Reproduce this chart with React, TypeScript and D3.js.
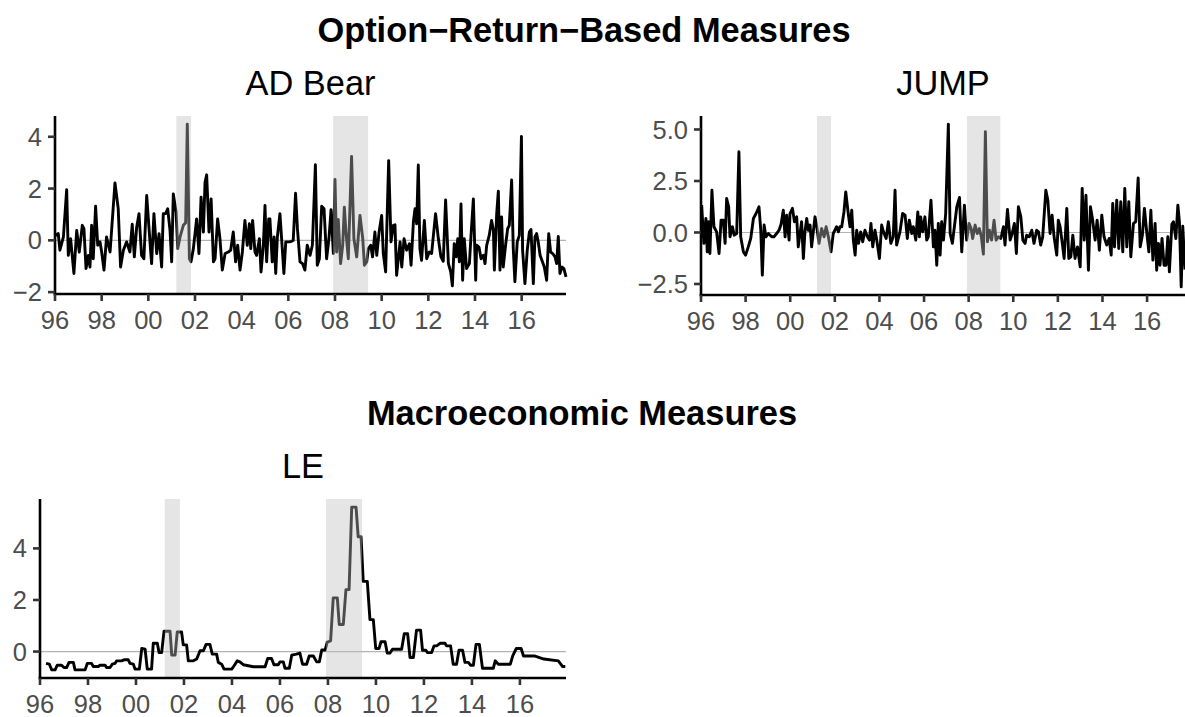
import React from "react";
import * as d3 from "d3";

// years since Jan 1996, value
const adBear: [number, number][] = [
  [0.00,0.19],[0.14,0.26],[0.21,-0.38],[0.36,0.13],[0.50,1.96],[0.57,-0.58],[0.67,0.06],[0.81,-1.28],[0.93,0.38],[1.04,-0.45],
  [1.17,0.58],[1.24,0.45],[1.33,-1.09],[1.43,-0.58],[1.50,-1.03],[1.57,0.58],[1.64,-0.71],[1.74,1.32],[1.83,-0.19],[1.93,-0.06],
  [2.00,-0.45],[2.10,-1.15],[2.21,0.13],[2.36,-0.45],[2.57,2.22],[2.71,1.22],[2.81,-1.03],[2.93,-0.38],[3.07,-0.06],[3.21,-0.45],
  [3.31,0.62],[3.40,-0.64],[3.50,0.51],[3.60,1.03],[3.71,-0.58],[3.81,-0.71],[3.93,1.73],[4.03,0.45],[4.14,-0.90],[4.24,1.03],
  [4.36,-0.51],[4.46,0.26],[4.57,-1.03],[4.64,1.03],[4.74,1.03],[4.83,1.22],[4.93,0.38],[5.00,-0.83],[5.07,1.79],[5.19,1.09],
  [5.26,-0.32],[5.36,0.13],[5.50,0.58],[5.60,0.68],[5.67,4.49],[5.76,-0.71],[5.83,-0.83],[5.93,-0.32],[6.07,0.83],[6.17,-0.51],
  [6.26,1.67],[6.36,0.32],[6.43,2.24],[6.50,2.53],[6.60,0.32],[6.69,1.60],[6.79,-0.83],[6.86,-0.71],[6.97,0.83],[7.07,0.06],
  [7.17,-1.15],[7.29,-0.51],[7.43,-0.45],[7.53,-0.38],[7.64,0.32],[7.74,-0.83],[7.83,-0.19],[7.93,-1.15],[8.03,-0.45],[8.14,0.77],
  [8.24,-0.19],[8.33,0.64],[8.39,-0.32],[8.47,0.77],[8.57,-0.45],[8.64,-0.58],[8.76,0.06],[8.83,-1.22],[8.93,-0.19],[9.00,1.35],
  [9.07,-0.83],[9.16,0.83],[9.21,0.83],[9.31,-0.83],[9.39,0.13],[9.46,-1.28],[9.53,0.13],[9.64,1.03],[9.74,-0.32],[9.81,-1.28],
  [9.89,-0.06],[10.03,-0.06],[10.14,-0.04],[10.21,0.00],[10.31,1.82],
  [10.39,0.45],[10.50,-0.83],[10.61,-0.90],[10.71,-1.15],[10.81,-0.19],[10.93,-0.58],[11.03,-0.19],[11.16,2.92],[11.24,-0.96],[11.33,-0.71],
  [11.43,1.32],[11.53,1.22],[11.64,-0.71],[11.74,0.06],[11.83,1.18],[11.93,-0.51],[12.00,2.35],[12.07,-0.45],[12.14,0.81],[12.24,-0.90],
  [12.33,-0.19],[12.40,1.28],[12.47,0.32],[12.57,-0.71],[12.71,3.24],[12.81,0.06],[12.93,-0.64],[13.07,0.96],[13.19,0.06],[13.26,-0.96],
  [13.36,-0.83],[13.43,-0.32],[13.53,-0.19],[13.61,-0.64],[13.71,0.32],[13.79,-0.58],[13.89,0.32],[14.00,0.96],[14.07,-0.51],[14.17,-1.22],
  [14.30,3.08],[14.40,-0.06],[14.50,0.58],[14.57,0.60],[14.64,-1.35],[14.79,-0.06],[14.86,-1.03],[14.96,0.06],[15.07,-0.38],[15.19,-0.13],
  [15.26,-0.96],[15.36,0.71],[15.43,1.22],[15.50,0.64],[15.57,2.91],[15.64,-0.32],[15.71,-0.77],[15.83,0.77],[15.93,-0.71],[16.04,-0.45],
  [16.14,-0.51],[16.31,1.03],[16.43,0.06],[16.54,-0.64],[16.64,-0.81],[16.74,1.56],[16.86,-0.90],[16.96,-1.22],[17.03,-1.76],[17.11,-0.13],
  [17.19,-0.64],[17.26,0.06],[17.33,-0.83],[17.40,1.41],[17.47,-1.54],[17.54,0.06],[17.64,-1.09],[17.76,-0.90],[17.83,0.19],[17.93,1.60],
  [18.03,-1.54],[18.07,-0.19],[18.17,-0.26],[18.26,-0.71],[18.36,-0.58],[18.43,-0.90],[18.50,-0.19],[18.61,0.19],[18.71,0.77],[18.79,0.38],
  [18.83,-1.15],[18.93,1.03],[19.00,1.90],[19.07,-1.15],[19.14,0.90],[19.21,-1.03],[19.31,-0.19],[19.40,0.45],[19.47,0.58],[19.57,2.33],
  [19.64,-0.32],[19.71,-1.60],[19.81,-0.06],[19.90,0.19],[19.99,4.01],[20.04,-0.38],[20.14,-1.67],[20.24,-0.38],[20.33,0.32],[20.40,0.42],
  [20.50,-1.67],[20.57,0.13],[20.64,0.26],[20.71,-0.06],[20.79,-0.58],[20.89,-0.83],[20.97,-1.03],[21.07,-1.54],[21.16,0.26],[21.24,-0.45],
  [21.33,-0.51],[21.43,-0.64],[21.50,-0.90],[21.57,0.15],[21.64,-1.28],[21.73,-1.03],[21.81,-1.09],[21.90,-1.41],
];

const jump: [number, number][] = [
  [0.03,1.33],[0.13,-0.53],[0.22,0.68],[0.28,-0.94],[0.33,0.52],[0.40,-1.02],[0.49,2.05],[0.58,0.28],[0.70,0.03],[0.81,-1.02],
  [0.90,0.60],[1.00,0.60],[1.08,-0.53],[1.15,1.65],[1.24,1.25],[1.30,-0.21],[1.41,0.28],[1.49,-0.13],[1.60,-0.05],[1.70,3.92],
  [1.78,-0.21],[1.90,-0.94],[2.00,-1.10],[2.12,-0.70],[2.23,-0.29],[2.35,0.68],[2.47,0.92],[2.60,1.25],[2.68,0.11],[2.75,-2.07],
  [2.83,0.36],[2.91,-0.21],[3.02,-0.05],[3.17,-0.21],[3.27,-0.21],[3.39,-0.05],[3.50,0.11],[3.59,0.40],[3.69,1.08],[3.77,-0.21],
  [3.84,0.84],[3.95,-0.37],[3.99,0.92],[4.10,1.17],[4.19,0.52],[4.29,0.76],[4.36,-0.70],[4.51,0.52],[4.59,-1.26],[4.66,0.03],
  [4.74,0.68],[4.81,0.11],[4.89,0.36],[4.96,-0.70],[5.11,0.76],[5.19,0.28],[5.29,-0.53],[5.41,0.19],[5.52,-0.21],[5.61,0.28],
  [5.71,-0.21],[5.83,-0.94],[5.93,-0.05],[6.08,0.28],[6.16,0.03],[6.23,0.28],[6.31,0.28],[6.41,1.00],[6.49,1.97],[6.61,0.84],
  [6.68,0.28],[6.76,1.08],[6.83,-0.37],[6.91,-1.10],[6.98,0.11],[7.06,-0.53],[7.16,0.03],[7.25,-0.45],[7.35,0.11],[7.46,-0.21],
  [7.55,-0.37],[7.62,0.44],[7.70,-0.70],[7.80,0.11],[7.88,-0.37],[8.00,-1.26],[8.10,0.36],[8.18,0.03],[8.30,-0.29],[8.40,0.52],
  [8.51,-0.53],[8.62,-0.21],[8.70,2.05],[8.77,-0.61],[8.92,0.03],[9.04,0.92],[9.15,0.84],[9.25,-0.29],[9.34,0.60],[9.45,-0.05],
  [9.52,0.28],[9.63,-0.37],[9.72,1.00],[9.79,-0.21],[9.85,0.76],[9.94,0.03],[10.04,0.76],[10.12,-0.37],[10.19,-0.21],[10.31,1.57],
  [10.42,-0.70],[10.49,0.11],[10.57,-1.59],[10.64,0.44],[10.72,-1.10],[10.79,0.52],[10.87,-0.37],[10.97,0.92],[11.09,5.26],[11.17,-0.05],
  [11.27,-0.53],[11.36,0.28],[11.47,1.25],[11.59,1.70],[11.69,-0.94],[11.81,1.33],[11.91,-0.37],[12.02,0.44],[12.11,0.19],[12.18,-0.29],
  [12.29,0.36],[12.39,-0.05],[12.48,0.19],[12.57,-0.21],[12.66,-1.05],[12.75,4.89],[12.84,-0.45],[12.93,0.11],[13.03,-0.37],[13.14,0.60],
  [13.23,-0.37],[13.33,-0.21],[13.44,-0.29],[13.56,0.28],[13.63,-0.61],[13.74,1.12],[13.86,-0.37],[13.95,-0.05],[14.05,0.44],[14.14,-1.02],
  [14.23,1.25],[14.34,0.76],[14.43,-0.37],[14.53,-0.53],[14.60,-0.13],[14.72,-0.21],[14.83,0.11],[14.93,-0.53],[15.05,0.11],[15.13,0.03],
  [15.23,-0.61],[15.32,-0.21],[15.46,2.05],[15.55,1.57],[15.65,-0.05],[15.74,0.84],[15.83,-0.21],[15.95,-1.10],[16.02,0.60],[16.10,0.28],
  [16.20,-0.53],[16.28,-1.26],[16.40,1.17],[16.49,-1.26],[16.58,-1.18],[16.67,-0.13],[16.77,-1.26],[16.88,-0.70],[17.00,-1.67],[17.09,2.14],
  [17.18,-0.37],[17.26,1.81],[17.37,-1.83],[17.46,1.25],[17.55,0.68],[17.67,-0.37],[17.76,0.60],[17.86,-0.86],[17.97,0.84],[18.07,-0.21],
  [18.19,-0.61],[18.30,-0.29],[18.39,-1.10],[18.46,1.41],[18.54,-0.70],[18.64,1.57],[18.73,-0.78],[18.82,1.49],[18.91,-0.94],[19.00,2.14],
  [19.09,-0.70],[19.18,1.49],[19.27,-1.18],[19.39,0.44],[19.49,0.52],[19.60,2.65],[19.69,-0.70],[19.79,-0.13],[19.88,1.17],[19.99,-0.05],
  [20.08,-0.94],[20.17,1.08],[20.26,-1.34],[20.36,0.44],[20.43,-1.83],[20.51,-0.53],[20.58,-1.59],[20.67,-0.29],[20.76,-1.59],[20.85,-1.59],
  [20.93,-0.21],[21.00,-1.91],[21.11,0.40],[21.18,0.52],[21.29,-0.29],[21.38,1.33],[21.45,0.52],[21.53,-2.64],[21.60,0.30],[21.70,-1.80],
];

const le: [number, number][] = [
  [0.25,-0.46],[0.39,-0.49],[0.49,-0.71],[0.63,-0.71],[0.72,-0.53],[0.90,-0.53],[1.00,-0.62],[1.11,-0.62],[1.21,-0.42],[1.39,-0.42],
  [1.46,-0.71],[1.88,-0.71],[1.97,-0.46],[2.15,-0.46],[2.22,-0.58],[2.43,-0.58],[2.50,-0.53],[2.71,-0.53],[2.78,-0.62],[2.92,-0.62],
  [3.01,-0.49],[3.13,-0.46],[3.19,-0.36],[3.40,-0.36],[3.50,-0.32],[3.68,-0.32],[3.75,-0.46],[3.89,-0.49],[3.96,-0.68],[4.14,-0.68],
  [4.24,0.12],[4.38,0.09],[4.47,-0.68],[4.65,-0.68],[4.72,0.32],[4.89,0.32],[4.96,-0.04],[5.07,-0.04],[5.17,0.79],[5.42,0.79],
  [5.49,-0.14],[5.63,-0.14],[5.72,0.76],[5.90,0.76],[5.97,0.26],[6.11,0.26],[6.18,-0.36],[6.39,-0.36],[6.53,-0.29],[6.67,0.03],
  [6.81,0.03],[6.92,0.28],[7.08,0.28],[7.18,-0.10],[7.36,-0.10],[7.43,-0.42],[7.57,-0.49],[7.67,-0.68],[7.99,-0.68],[8.06,-0.59],
  [8.22,-0.36],[8.33,-0.40],[8.47,-0.51],[8.68,-0.55],[8.89,-0.59],[9.38,-0.59],[9.49,-0.27],[9.65,-0.27],[9.75,-0.51],[9.93,-0.51],
  [10.00,-0.40],[10.14,-0.40],[10.21,-0.65],[10.39,-0.65],[10.49,-0.14],[10.69,-0.10],[10.83,-0.06],[10.94,-0.49],[11.11,-0.49],[11.22,-0.17],
  [11.39,-0.17],[11.53,-0.40],[11.64,-0.40],[11.74,0.06],[11.88,0.06],[11.97,0.37],[12.11,0.41],[12.22,2.08],[12.39,2.08],[12.47,1.05],
  [12.64,1.05],[12.75,2.40],[12.88,2.40],[12.99,5.60],[13.17,5.60],[13.26,4.45],[13.38,4.45],[13.47,2.72],[13.64,2.72],[13.75,1.24],
  [13.89,1.24],[13.99,0.12],[14.13,0.12],[14.21,0.38],[14.38,0.38],[14.47,-0.06],[14.58,-0.06],[14.69,0.09],[15.07,0.09],[15.18,0.69],
  [15.32,0.69],[15.42,-0.23],[15.56,-0.23],[15.69,0.83],[15.86,0.83],[15.94,0.05],[16.08,0.05],[16.15,-0.04],[16.32,-0.04],[16.42,0.22],
  [16.53,0.22],[16.67,0.32],[16.88,0.32],[16.94,0.22],[17.11,0.22],[17.22,-0.49],[17.36,-0.49],[17.46,0.05],[17.61,0.05],[17.71,-0.42],
  [17.85,-0.42],[17.94,-0.53],[18.06,-0.53],[18.17,0.28],[18.31,0.28],[18.44,-0.65],[18.89,-0.65],[18.97,-0.36],[19.10,-0.49],[19.60,-0.49],
  [19.70,-0.17],[19.85,0.12],[20.05,0.12],[20.15,-0.17],[20.60,-0.17],[21.00,-0.29],[21.60,-0.36],[21.78,-0.58],[21.89,-0.58],
];

// NBER recessions, years since Jan 1996
const recessions: [number, number][] = [[5.2, 5.83], [11.92, 13.42]];

const xTickValues = [0, 2, 4, 6, 8, 10, 12, 14, 16, 18, 20];
const xTickLabels = ["96", "98", "00", "02", "04", "06", "08", "10", "12", "14", "16"];

const adBearTicks = [-2, 0, 2, 4];
const adBearTickLabels = ["\u22122", "0", "2", "4"];
const jumpTicks = [-2.5, 0, 2.5, 5];
const jumpTickLabels = ["\u22122.5", "0.0", "2.5", "5.0"];
const leTicks = [0, 2, 4];
const leTickLabels = ["0", "2", "4"];

const FONT = "'Liberation Sans', Arial, Helvetica, sans-serif";
const TICK_FONT = 25.5;

type PanelProps = {
  left: number; right: number; top: number; bottom: number;
  data: [number, number][]; xMax: number; title: string;
  yTicks: number[]; yLabels: string[];
};

function Panel({ left, right, top, bottom, data, xMax, title, yTicks, yLabels }: PanelProps) {
  const x = d3.scaleLinear().domain([0, xMax]).range([left, right]);
  const ext = d3.extent(data, (d) => d[1]) as [number, number];
  const pad = (ext[1] - ext[0]) * 0.05;
  const y = d3.scaleLinear().domain([ext[0] - pad, ext[1] + pad]).range([bottom, top]);
  const line = d3.line<[number, number]>().x((d) => x(d[0])).y((d) => y(d[1]));
  const tickLen = 7;
  const xt = xTickValues.map((v, i) => ({ v, l: xTickLabels[i] })).filter((t) => t.v <= xMax);
  return (
    <g>
      <text x={(left + right) / 2} y={top - 21} textAnchor="middle" fontSize={34.4} fill="#000" fontFamily={FONT}>{title}</text>
      <line x1={left} x2={right} y1={y(0)} y2={y(0)} stroke="#b3b3b3" strokeWidth={1.2} />
      <path d={line(data) || ""} fill="none" stroke="#000" strokeWidth={2.9} strokeLinejoin="round" strokeLinecap="butt" />
      {recessions.map((r, i) => (
        <rect key={i} x={x(r[0])} y={top} width={x(r[1]) - x(r[0])} height={bottom - top} fill="#bfbfbf" fillOpacity={0.4} />
      ))}
      <line x1={left} x2={left} y1={top} y2={bottom + 1.3} stroke="#000" strokeWidth={2.6} />
      <line x1={left - 1.3} x2={right} y1={bottom} y2={bottom} stroke="#000" strokeWidth={2.6} />
      {yTicks.map((t, i) => (
        <g key={"y" + i}>
          <line x1={left - tickLen} x2={left} y1={y(t)} y2={y(t)} stroke="#333" strokeWidth={2.6} />
          <text x={left - 13} y={y(t) + 9.1} textAnchor="end" fontSize={TICK_FONT} fill="#4d4d4d" fontFamily={FONT}>{yLabels[i]}</text>
        </g>
      ))}
      {xt.map((t, i) => (
        <g key={"x" + i}>
          <line x1={x(t.v)} x2={x(t.v)} y1={bottom} y2={bottom + tickLen} stroke="#333" strokeWidth={2.6} />
          <text x={x(t.v)} y={bottom + 34.5} textAnchor="middle" fontSize={TICK_FONT} fill="#4d4d4d" fontFamily={FONT}>{t.l}</text>
        </g>
      ))}
    </g>
  );
}

export default function App() {
  return (
    <svg width={1185} height={717} style={{ position: "absolute", left: 0, top: 0, background: "#fff" }}>
      <rect x={0} y={0} width={1185} height={717} fill="#fff" />
      <text x={584} y={42} textAnchor="middle" fontSize={34.4} fontWeight="bold" fill="#000" fontFamily={FONT}>Option{"\u2212"}Return{"\u2212"}Based Measures</text>
      <text x={582} y={425} textAnchor="middle" fontSize={34.4} fontWeight="bold" fill="#000" fontFamily={FONT}>Macroeconomic Measures</text>
      <Panel left={55} right={566} top={116} bottom={294} data={adBear} xMax={21.9} title="AD Bear" yTicks={adBearTicks} yLabels={adBearTickLabels} />
      <Panel left={701} right={1185} top={116} bottom={295} data={jump} xMax={21.7} title="JUMP" yTicks={jumpTicks} yLabels={jumpTickLabels} />
      <Panel left={40} right={566} top={499} bottom={678} data={le} xMax={21.92} title="LE" yTicks={leTicks} yLabels={leTickLabels} />
    </svg>
  );
}
